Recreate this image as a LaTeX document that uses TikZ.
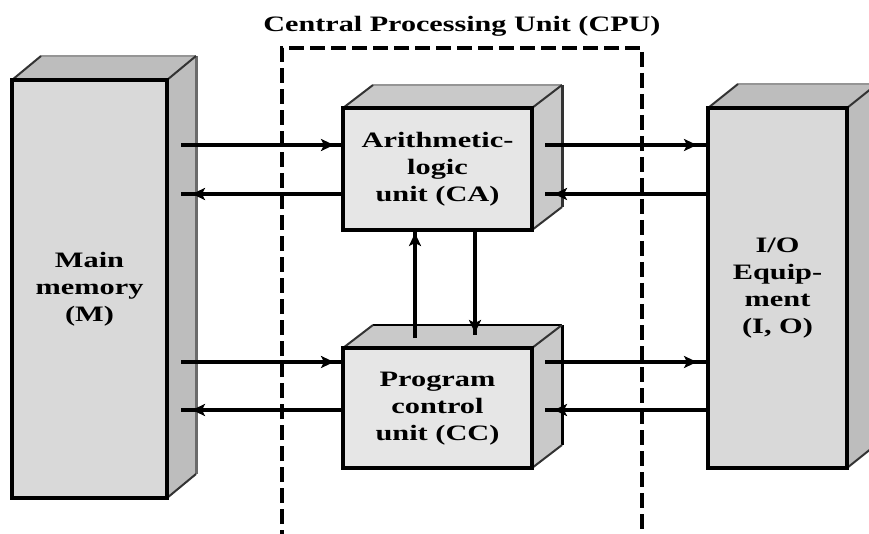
\documentclass[tikz,border=0pt]{standalone}
\usepackage{fontspec}
\setmainfont{Liberation Serif}
\usetikzlibrary{calc,backgrounds,decorations.markings,arrows.meta}
\definecolor{memfront}{HTML}{D9D9D9}
\definecolor{memface}{HTML}{BDBDBD}
\definecolor{cpufront}{HTML}{E6E6E6}
\definecolor{cpuface}{HTML}{C9C9C9}
\definecolor{backedge}{HTML}{6B6B6B}
\definecolor{topedge}{HTML}{959595}
\definecolor{diagedge}{HTML}{333333}
\tikzset{
  front/.style={draw=black, line width=3.2pt, outer sep=0pt, inner sep=0pt,
    font=\bfseries\fontsize{22}{27}\selectfont},
  conn/.style={line width=3.2pt},
  tipat/.style={postaction={decorate}, decoration={markings,
    mark=at position #1 with {\arrow{Stealth[length=13pt,width=12pt,inset=3pt]}}}},
  cpubox/.style={line width=3.2pt, dash pattern=on 15pt off 6pt},
  titletext/.style={font=\bfseries\fontsize{22}{27}\selectfont, inner sep=0pt},
}
\newcommand{\boxtext}[1]{\scalebox{1.38}[1]{\begin{tabular}{@{}c@{}}#1\end{tabular}}}
% faces of a box: name, dx, dy, face colour, top back edge colour, side back edge colour
\newcommand{\cubefaces}[6]{%
  \fill[#4] (#1.north west) -- ++(#2,#3) -- ($(#1.north east)+(#2,#3)$) -- (#1.north east) -- cycle;
  \fill[#4] (#1.north east) -- ++(#2,#3) -- ($(#1.south east)+(#2,#3)$) -- (#1.south east) -- cycle;
  \draw[#5, line width=2.5pt] ($(#1.north west)+(#2,#3)$) -- ($(#1.north east)+(#2,#3)$);
  \draw[#6, line width=3pt] ($(#1.north east)+(#2,#3)$) -- ($(#1.south east)+(#2,#3)$);
  \draw[diagedge, line width=2pt] (#1.north west) -- ++(#2,#3) (#1.north east) -- ++(#2,#3) (#1.south east) -- ++(#2,#3);
}
\begin{document}
\begin{tikzpicture}[x=1pt,y=-1pt]
\useasboundingbox (0,0) rectangle (869,534);
\clip (0,0) rectangle (869,534);

% front faces
\node[front, fill=memfront, minimum width=155pt, minimum height=418pt] (mem) at (89.5,289) {\boxtext{Main\\memory\\(M)}};
\node[front, fill=cpufront, minimum width=189pt, minimum height=122pt] (alu) at (437.5,169) {\boxtext{Arithmetic-\\logic\\unit (CA)}};
\node[front, fill=cpufront, minimum width=189pt, minimum height=120pt] (pcu) at (437.5,408) {\boxtext{Program\\control\\unit (CC)}};
\node[front, fill=memfront, minimum width=139pt, minimum height=360pt] (io) at (777.5,288) {\boxtext{I/O\\Equip-\\ment\\(I, O)}};

\begin{scope}[on background layer]
  \cubefaces{mem}{29}{-24}{memface}{topedge}{backedge}
  \cubefaces{alu}{30}{-23}{cpuface}{topedge}{diagedge}
  \cubefaces{pcu}{30}{-23}{cpuface}{black}{black}
  \cubefaces{io}{30}{-24}{memface}{topedge}{backedge}
\end{scope}

% CPU boundary and title
\draw[cpubox] (282,545) -- (282,48) -- (642,48) -- (642,545);
\node[titletext] (title) at (462,26) {\scalebox{1.37}[1]{Central Processing Unit (CPU)}};

% memory <-> ALU
\draw[conn, tipat=-9pt] ($(mem.north east)+(14,65)$) -- ($(alu.north west)+(0,37)$);
\draw[conn, tipat=-11pt] ($(alu.north west)+(0,86)$) -- ($(mem.north east)+(14,114)$);
% ALU <-> I/O
\draw[conn, tipat=-11pt] ($(alu.north east)+(13,37)$) -- ($(io.north west)+(0,37)$);
\draw[conn, tipat=-9pt] ($(io.north west)+(0,86)$) -- ($(alu.north east)+(13,86)$);
% memory <-> program control
\draw[conn, tipat=-9pt] ($(mem.north east)+(14,282)$) -- ($(pcu.north west)+(0,14)$);
\draw[conn, tipat=-11pt] ($(pcu.north west)+(0,62)$) -- ($(mem.north east)+(14,330)$);
% program control <-> I/O
\draw[conn, tipat=-11pt] ($(pcu.north east)+(13,14)$) -- ($(io.north west)+(0,254)$);
\draw[conn, tipat=-9pt] ($(io.north west)+(0,302)$) -- ($(pcu.north east)+(13,62)$);
% ALU <-> program control
\draw[conn, tipat=-3pt] ($(pcu.north west)+(72,-10)$) -- ($(alu.south west)+(72,0)$);
\draw[conn, tipat=-2pt] ($(alu.south west)+(132,0)$) -- ($(pcu.north west)+(132,-13)$);
\end{tikzpicture}
\end{document}
